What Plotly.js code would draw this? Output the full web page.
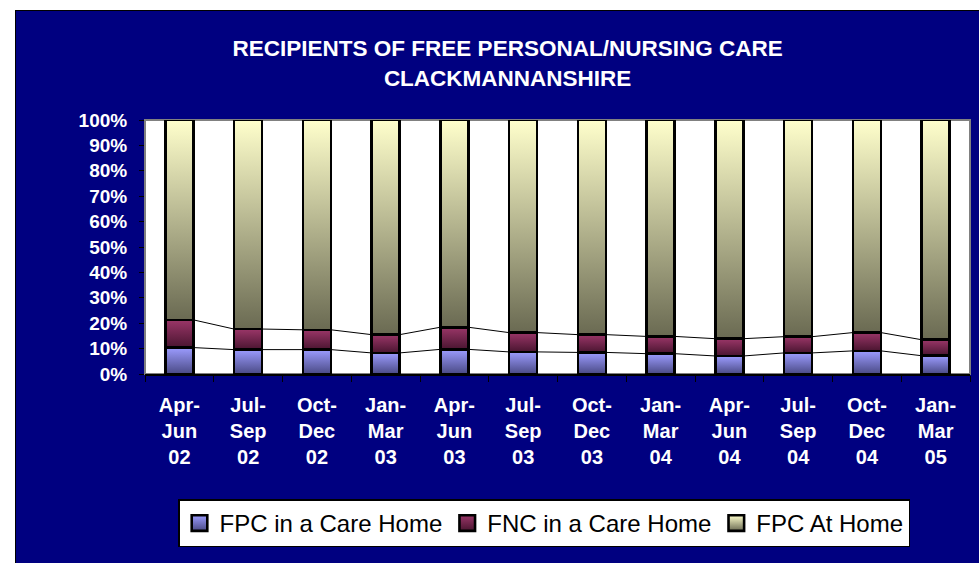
<!DOCTYPE html>
<html>
<head>
<meta charset="utf-8">
<script src="https://cdn.plot.ly/plotly-3.0.1.min.js"></script>
<style>
  html, body { margin: 0; padding: 0; background: #ffffff; width: 979px; height: 563px; overflow: hidden; }
  #chart { position: absolute; left: 15px; top: 10px; width: 963px; height: 552px; border-top: 1px solid #000; border-left: 1px solid #000; }
</style>
</head>
<body>
<div id="chart"></div>
<script>
const categories = ["Apr-<br>Jun<br>02", "Jul-<br>Sep<br>02", "Oct-<br>Dec<br>02", "Jan-<br>Mar<br>03",
                    "Apr-<br>Jun<br>03", "Jul-<br>Sep<br>03", "Oct-<br>Dec<br>03", "Jan-<br>Mar<br>04",
                    "Apr-<br>Jun<br>04", "Jul-<br>Sep<br>04", "Oct-<br>Dec<br>04", "Jan-<br>Mar<br>05"];
const fpcCareHome = [10.4, 9.6, 9.6, 8.3, 9.7, 8.7, 8.5, 8.0, 7.1, 8.3, 9.1, 7.2];
const fncCareHome = [10.9, 8.1, 7.8, 7.2, 8.7, 7.6, 7.0, 6.8, 6.8, 6.4, 7.2, 6.3];
const fpcAtHome   = [78.7, 82.3, 82.6, 84.5, 81.6, 83.7, 84.5, 85.2, 86.1, 85.3, 83.7, 86.5];
const seriesNames = ["FPC in a Care Home", "FNC in a Care Home", "FPC At Home"];

const xs = categories.map((c, i) => i);
const BAR_W = 0.41;
const series = [fpcCareHome, fncCareHome, fpcAtHome];

// cumulative percentages (for Excel-style series lines)
const totals = xs.map(i => series.reduce((s, arr) => s + arr[i], 0));
const cum1 = xs.map(i => 100 * fpcCareHome[i] / totals[i]);
const cum2 = xs.map(i => 100 * (fpcCareHome[i] + fncCareHome[i]) / totals[i]);

function seriesLine(cum) {
  const lx = [], ly = [];
  for (let i = 0; i < xs.length - 1; i++) {
    lx.push(xs[i] + BAR_W / 2, xs[i + 1] - BAR_W / 2, null);
    ly.push(cum[i], cum[i + 1], null);
  }
  return {x: lx, y: ly, type: 'scatter', mode: 'lines', line: {color: '#000', width: 1},
          showlegend: false, hoverinfo: 'skip', connectgaps: false};
}

const baseColors = ['#8080d0', '#7a2850', '#c8c8a0'];
const traces = series.map((arr, k) => ({
  x: xs, y: arr, type: 'bar', name: seriesNames[k], width: BAR_W,
  marker: {color: baseColors[k], line: {color: '#000', width: 2.5}}
}));
traces.push(seriesLine(cum1));
traces.push(seriesLine(cum2));

const layout = {
  width: 964, height: 553,
  paper_bgcolor: '#000080', plot_bgcolor: '#ffffff',
  margin: {l: 129, r: 10, t: 109, b: 190},
  barmode: 'stack', barnorm: 'percent',
  font: {family: 'Liberation Sans, Arial, sans-serif', color: '#ffffff'},
  title: {
    text: '<b>RECIPIENTS OF FREE PERSONAL/NURSING CARE<br>CLACKMANNANSHIRE</b>',
    font: {size: 22.5, color: '#ffffff', family: 'Liberation Sans, Arial, sans-serif'},
    xref: 'container', x: 0.510, xanchor: 'center',
    yref: 'container', y: 0.918, yanchor: 'top'
  },
  xaxis: {
    range: [-0.5, 11.5], tickmode: 'array', tickvals: xs, ticktext: categories,
    ticks: '', showgrid: false, zeroline: false,
    showline: true, linecolor: '#000', linewidth: 1.5,
    tickfont: {size: 20, color: '#ffffff', family: 'Liberation Sans, Arial, sans-serif', weight: 'bold'},
    ticklabelstandoff: 12,
    minor: {tickmode: 'linear', tick0: -0.5, dtick: 1, ticks: 'outside', ticklen: 6, tickcolor: '#000', tickwidth: 1, showgrid: false}
  },
  yaxis: {
    range: [0, 100], tickmode: 'linear', tick0: 0, dtick: 10, ticksuffix: '%',
    ticks: 'outside', ticklen: 5, tickcolor: '#000', tickwidth: 1,
    showgrid: false, zeroline: false, showline: false,
    tickfont: {size: 19, color: '#ffffff', family: 'Liberation Sans, Arial, sans-serif', weight: 'bold'},
    ticklabelstandoff: 8
  },
  shapes: [{type: 'rect', xref: 'paper', yref: 'paper', x0: 0, x1: 1, y0: 0, y1: 1,
            line: {color: '#808080', width: 2}, layer: 'below'}],
  legend: {
    orientation: 'h', x: 0.040, xanchor: 'left', y: -0.494, yanchor: 'top',
    bgcolor: '#ffffff', bordercolor: '#000', borderwidth: 1.5,
    font: {size: 24, color: '#000', family: 'Liberation Sans, Arial, sans-serif'},
    traceorder: 'normal', itemclick: false
  },
  showlegend: true
};

const grads = [
  ['gFPC', '#9c9cff', '#4a4a85'],
  ['gFNC', '#9a3668', '#4a1530'],
  ['gHOME', '#ffffcc', '#6a6a52']
];

Plotly.newPlot('chart', traces, layout, {displayModeBar: false, staticPlot: true}).then(gd => {
  const svg = gd.querySelector('svg.main-svg');
  const ns = 'http://www.w3.org/2000/svg';
  let defs = svg.querySelector('defs');
  if (!defs) { defs = document.createElementNS(ns, 'defs'); svg.insertBefore(defs, svg.firstChild); }
  grads.forEach(([id, top, bot]) => {
    const g = document.createElementNS(ns, 'linearGradient');
    g.setAttribute('id', id);
    g.setAttribute('x1', '0'); g.setAttribute('y1', '0'); g.setAttribute('x2', '0'); g.setAttribute('y2', '1');
    [[0, top], [1, bot]].forEach(([o, c]) => {
      const s = document.createElementNS(ns, 'stop');
      s.setAttribute('offset', o); s.setAttribute('stop-color', c);
      g.appendChild(s);
    });
    defs.appendChild(g);
  });
  const barTraces = gd.querySelectorAll('.barlayer .trace.bars');
  barTraces.forEach((t, k) => {
    t.querySelectorAll('.point path').forEach(p => { p.style.fill = 'url(#' + grads[k][0] + ')'; });
  });
  const legSvgs = document.querySelectorAll('svg.main-svg');
  legSvgs.forEach(sv => {
    sv.querySelectorAll('.legend .traces').forEach((t, k) => {
      if (k < 3) {
        t.querySelectorAll('.legendpoints path').forEach(p => {
          p.style.fill = 'url(#' + grads[k][0] + ')';
          p.style.strokeWidth = '2px';
          const tr = p.getAttribute('transform') || '';
          p.setAttribute('transform', tr + ' scale(1.3)');
        });
      }
    });
  });
});
</script>
</body>
</html>
